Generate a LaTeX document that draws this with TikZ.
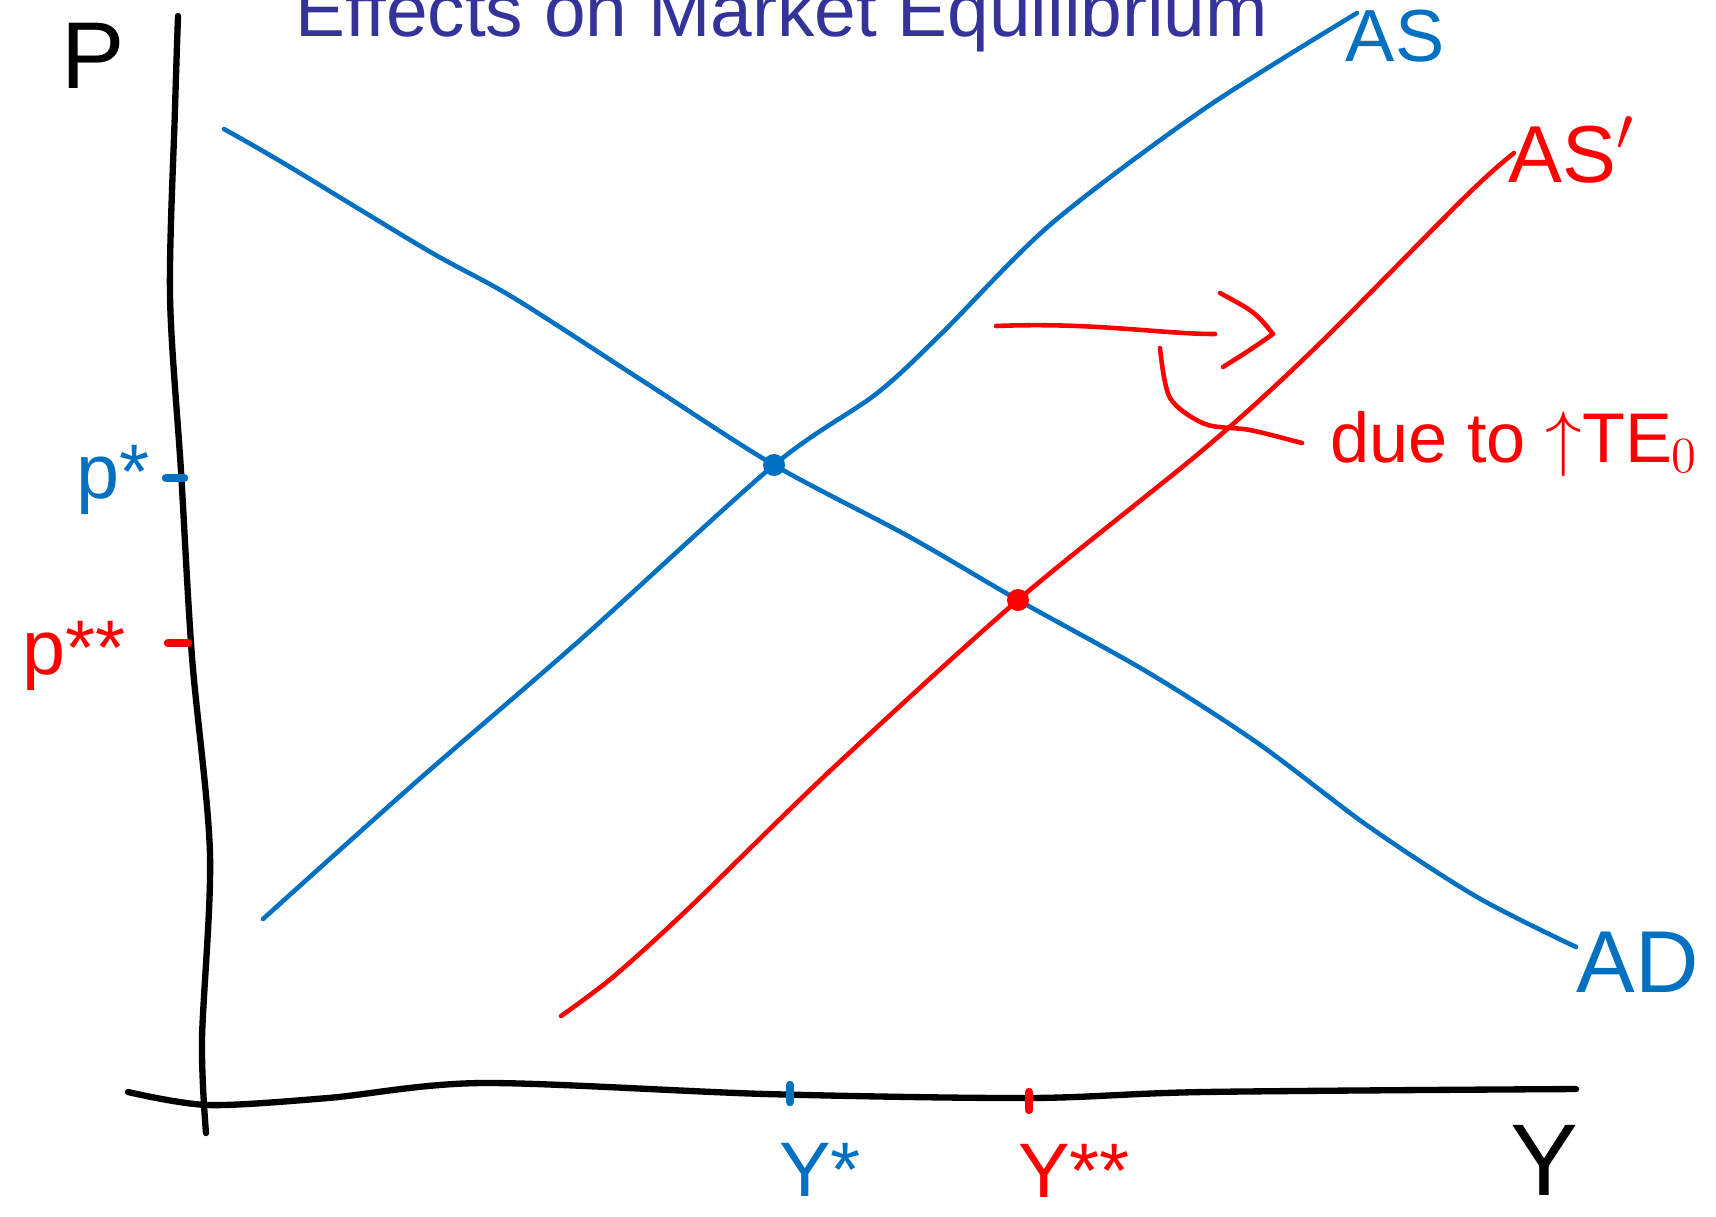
\documentclass[tikz,border=0pt]{standalone}
\usepackage{fontspec}
\setmainfont{Liberation Sans}
\usetikzlibrary{positioning}
\definecolor{curveblue}{HTML}{0070C0}
\definecolor{titleblue}{HTML}{333399}

\begin{document}
\begin{tikzpicture}[x=0.1mm, y=-0.1mm,
	axis/.style={line width=1.8pt, black, line cap=round},
	curve/.style={line width=1.3pt, line cap=round, line join=round},
	hand/.style={inner sep=0pt, font=\fontsize{#1}{#1}\selectfont},
	dot/.style={circle, inner sep=0pt, minimum size=2.2mm},
	tick/.style={line width=2.4pt, line cap=round}]

\useasboundingbox (0,0) rectangle (1716,1216);

\node[anchor=base, titleblue, font=\fontsize{21.3}{21.3}\selectfont] (title) at (782,36) {Effects on Market Equilibrium};

% Ejes
\draw[axis] plot[smooth] coordinates {(178,16) (175,109) (170,295) (181,471) (192,657) (210,854) (202,1040) (206,1133)};
\draw[axis] plot[smooth] coordinates {(128,1092) (208,1105) (328,1098) (482,1083) (766,1094) (1029,1098) (1204,1092) (1576,1089)};
\node[hand=27] (P) at (93,56) {P};
\node[hand=29] (Y) at (1544,1160) {Y};

% Curvas
\draw[curve, curveblue] plot[smooth] coordinates {(224,129) (285,164) (427,250) (514,298) (646,383) (774,465) (908,536) (1018,600) (1149,673) (1259,744) (1368,826) (1477,897) (1576,947)};
\draw[curve, curveblue] plot[smooth] coordinates {(263,919) (416,782) (580,640) (774,465) (876,394) (941,334) (1051,224) (1204,109) (1357,13)};
\draw[curve, red] plot[smooth] coordinates {(561,1016) (613,977) (689,908) (832,769) (1018,600) (1204,449) (1313,350) (1467,195) (1514,153)};
\node[hand=21, curveblue] (AS) at (1395,36) {AS};
\node[hand=23, red] (ASp) at (1572,150) {AS$'$};
\node[hand=25, curveblue] (AD) at (1638,962) {AD};

% Equilibrios
\node[dot, fill=curveblue] (E1) at (774,465) {};
\node[dot, fill=red] (E2) at (1018,600) {};
\draw[tick, curveblue] (166,478) -- (184,478);
\draw[tick, red] (168,643) -- (188,643);
\draw[tick, curveblue] (790,1085) -- (790,1102);
\draw[tick, red] (1029,1092) -- (1029,1110);
\node[hand=22, curveblue] (ps) at (113,480) {p*};
\node[hand=22, red] (pss) at (74,656) {p**};
\node[hand=22, curveblue] (Ys) at (820,1170) {Y*};
\node[hand=22, red] (Yss) at (1074,1171) {Y**};

% Desplazamiento
\node[hand=20, red, anchor=base west] (due) at (1330,462) {due to $\uparrow$TE$_0$};
\coordinate (s0) at (996,326);
\coordinate (s1) at (1215,334);
\coordinate (h0) at (1220,293);
\coordinate (h1) at (1273,334);
\coordinate (h2) at (1223,367);
\draw[curve, red] (s0) .. controls (1094,322) and (1160,334) .. (s1);
\draw[curve, red] (h0) .. controls (1255,312) .. (h1) .. controls (1250,350) .. (h2);
\draw[curve, red] plot[smooth] coordinates {(1160,348) (1170,398) (1205,424) (1250,430) (1302,443)};
\end{tikzpicture}
\end{document}
